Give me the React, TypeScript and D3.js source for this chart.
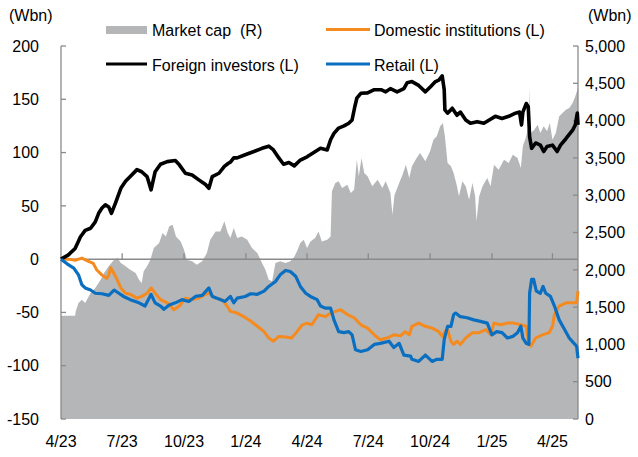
import React from 'react';
import * as d3 from 'd3';

// values (Wbn)
const marketCap: [string, number][] = [
  ['2023-04-01', 1385], ['2023-04-22', 1385], ['2023-04-23', 1443], ['2023-04-27', 1555], ['2023-05-02', 1600],
  ['2023-05-07', 1555], ['2023-05-15', 1689], ['2023-05-22', 1756], ['2023-05-30', 1868], ['2023-06-04', 1957],
  ['2023-06-11', 2046], ['2023-06-19', 2136], ['2023-06-24', 2158], ['2023-06-29', 2091], ['2023-07-06', 2046],
  ['2023-07-13', 2002], ['2023-07-21', 1957], ['2023-07-26', 1868], ['2023-07-30', 1823], ['2023-08-02', 1979],
  ['2023-08-07', 2046], ['2023-08-12', 2136], ['2023-08-17', 2292], ['2023-08-25', 2359], ['2023-08-30', 2493],
  ['2023-09-04', 2448], ['2023-09-09', 2583], ['2023-09-14', 2605], ['2023-09-19', 2448], ['2023-09-26', 2381],
  ['2023-10-01', 2270], ['2023-10-05', 2136], ['2023-10-13', 2113], ['2023-10-20', 2069], ['2023-10-28', 2113],
  ['2023-11-04', 2225], ['2023-11-09', 2404], ['2023-11-17', 2515], ['2023-11-24', 2515], ['2023-11-30', 2650],
  ['2023-12-05', 2493], ['2023-12-09', 2426], ['2023-12-14', 2560], ['2023-12-19', 2426], ['2023-12-26', 2448],
  ['2024-01-03', 2404], ['2024-01-10', 2292], ['2024-01-18', 2225], ['2024-01-25', 2091], ['2024-01-30', 2002],
  ['2024-02-04', 1868], ['2024-02-09', 1845], ['2024-02-14', 2091], ['2024-02-21', 2113], ['2024-02-29', 2091],
  ['2024-03-07', 2113], ['2024-03-12', 2158], ['2024-03-17', 2247], ['2024-03-22', 2359], ['2024-03-27', 2404],
  ['2024-04-01', 2292], ['2024-04-06', 2381], ['2024-04-13', 2426], ['2024-04-18', 2515], ['2024-04-23', 2381],
  ['2024-05-01', 2404], ['2024-05-06', 2448], ['2024-05-08', 3052], ['2024-05-13', 3163], ['2024-05-18', 3186],
  ['2024-05-23', 3096], ['2024-05-31', 3141], ['2024-06-05', 3029], ['2024-06-10', 3074], ['2024-06-14', 3476],
  ['2024-06-17', 3253], ['2024-06-21', 3498], ['2024-06-25', 3297], ['2024-06-30', 3253], ['2024-07-07', 3119],
  ['2024-07-15', 3208], ['2024-07-22', 3096], ['2024-07-27', 3186], ['2024-08-03', 3029], ['2024-08-06', 2739],
  ['2024-08-09', 3000], ['2024-08-16', 3163], ['2024-08-21', 3275], ['2024-08-26', 3409], ['2024-08-31', 3230],
  ['2024-09-04', 3387], ['2024-09-11', 3498], ['2024-09-16', 3565], ['2024-09-24', 3454], ['2024-10-01', 3588],
  ['2024-10-06', 3744], ['2024-10-11', 3789], ['2024-10-16', 3923], ['2024-10-20', 3967], ['2024-10-23', 3789],
  ['2024-10-27', 3431], ['2024-11-01', 3387], ['2024-11-05', 3297], ['2024-11-10', 3119], ['2024-11-13', 2985],
  ['2024-11-18', 3186], ['2024-11-23', 3119], ['2024-11-28', 2940], ['2024-12-03', 3163], ['2024-12-07', 2985],
  ['2024-12-09', 2650], ['2024-12-13', 2985], ['2024-12-18', 3119], ['2024-12-25', 3230], ['2024-12-30', 3119],
  ['2025-01-04', 3409], ['2025-01-11', 3342], ['2025-01-19', 3476], ['2025-01-26', 3431], ['2025-02-01', 3543],
  ['2025-02-08', 3498], ['2025-02-13', 3364], ['2025-02-16', 3655], ['2025-02-21', 3789], ['2025-02-25', 3967],
  ['2025-02-26', 4450], ['2025-02-27', 3950], ['2025-02-28', 3833], ['2025-03-05', 3878], ['2025-03-10', 3945],
  ['2025-03-14', 3833], ['2025-03-19', 3923], ['2025-03-24', 3856], ['2025-03-28', 3967], ['2025-04-01', 3744],
  ['2025-04-06', 3833], ['2025-04-11', 4057], ['2025-04-16', 4102], ['2025-04-21', 4146], ['2025-04-26', 4169],
  ['2025-05-01', 4236], ['2025-05-05', 4325], ['2025-05-09', 4437],
];

const domestic: [string, number][] = [
  ['2023-04-01', 0], ['2023-04-12', 0], ['2023-04-22', -1], ['2023-05-02', 1], ['2023-05-12', -2],
  ['2023-05-19', -4], ['2023-05-24', -10], ['2023-06-01', -15], ['2023-06-08', -18], ['2023-06-11', -15],
  ['2023-06-14', -8], ['2023-06-21', -16], ['2023-06-29', -27], ['2023-07-06', -32], ['2023-07-13', -33],
  ['2023-07-23', -36.6], ['2023-07-30', -35], ['2023-08-07', -32], ['2023-08-13', -27], ['2023-08-19', -32],
  ['2023-08-27', -38], ['2023-09-06', -41], ['2023-09-16', -47.5], ['2023-09-24', -44], ['2023-10-03', -36.6],
  ['2023-10-13', -38], ['2023-10-23', -36.6], ['2023-11-02', -33], ['2023-11-07', -32], ['2023-11-17', -36.6],
  ['2023-11-27', -38], ['2023-12-04', -44], ['2023-12-09', -49], ['2023-12-19', -50.6], ['2023-12-29', -54],
  ['2024-01-08', -58], ['2024-01-18', -63], ['2024-01-28', -68], ['2024-02-04', -74], ['2024-02-11', -77],
  ['2024-02-19', -72.5], ['2024-02-29', -73], ['2024-03-09', -74], ['2024-03-17', -68], ['2024-03-25', -61.6],
  ['2024-04-01', -60], ['2024-04-08', -61.6], ['2024-04-18', -52], ['2024-04-28', -54], ['2024-05-06', -50.6],
  ['2024-05-13', -49], ['2024-05-21', -47.5], ['2024-05-31', -52], ['2024-06-10', -55], ['2024-06-20', -61.6],
  ['2024-06-30', -64.7], ['2024-07-10', -71], ['2024-07-19', -75.6], ['2024-07-29', -74], ['2024-08-08', -71],
  ['2024-08-18', -72], ['2024-08-25', -68], ['2024-08-31', -71], ['2024-09-04', -63], ['2024-09-14', -60],
  ['2024-09-24', -63], ['2024-10-04', -64.7], ['2024-10-14', -68], ['2024-10-19', -72.5], ['2024-10-23', -68],
  ['2024-10-27', -66], ['2024-11-01', -77], ['2024-11-05', -80], ['2024-11-10', -77], ['2024-11-15', -80],
  ['2024-11-23', -74], ['2024-12-03', -69], ['2024-12-13', -69], ['2024-12-23', -66], ['2024-12-30', -71],
  ['2025-01-04', -60], ['2025-01-14', -61.6], ['2025-01-24', -60], ['2025-02-03', -60], ['2025-02-13', -61.6],
  ['2025-02-21', -63], ['2025-02-25', -80], ['2025-02-28', -81.6], ['2025-03-07', -74], ['2025-03-17', -71],
  ['2025-03-27', -69], ['2025-04-01', -63], ['2025-04-04', -52], ['2025-04-11', -44], ['2025-04-21', -41],
  ['2025-05-01', -41], ['2025-05-07', -41], ['2025-05-09', -30],
];

const foreign: [string, number][] = [
  ['2023-04-01', 0], ['2023-04-12', 4], ['2023-04-22', 10], ['2023-04-30', 21], ['2023-05-07', 27],
  ['2023-05-15', 29], ['2023-05-22', 35], ['2023-05-27', 43], ['2023-06-01', 48], ['2023-06-06', 51],
  ['2023-06-11', 49], ['2023-06-15', 43], ['2023-06-21', 52.5], ['2023-06-29', 66.5], ['2023-07-06', 73],
  ['2023-07-13', 77.5], ['2023-07-23', 84], ['2023-07-30', 82], ['2023-08-07', 77.5], ['2023-08-13', 65],
  ['2023-08-19', 82], ['2023-08-27', 89], ['2023-09-06', 91.5], ['2023-09-18', 92.5], ['2023-09-24', 88.5],
  ['2023-10-03', 80.6], ['2023-10-13', 79], ['2023-10-23', 74.4], ['2023-11-02', 70], ['2023-11-07', 66.5],
  ['2023-11-12', 77.5], ['2023-11-22', 80.6], ['2023-11-30', 87], ['2023-12-06', 90], ['2023-12-09', 91],
  ['2023-12-14', 95], ['2023-12-19', 95], ['2023-12-31', 98], ['2024-01-13', 101], ['2024-01-25', 104],
  ['2024-02-04', 106], ['2024-02-11', 102.5], ['2024-02-19', 95], ['2024-02-26', 89], ['2024-03-05', 90.6],
  ['2024-03-13', 87.5], ['2024-03-22', 93], ['2024-04-01', 96], ['2024-04-11', 100], ['2024-04-21', 104],
  ['2024-05-01', 102.5], ['2024-05-06', 112], ['2024-05-11', 118], ['2024-05-18', 123], ['2024-05-26', 125],
  ['2024-06-02', 127.5], ['2024-06-07', 130.6], ['2024-06-11', 143], ['2024-06-14', 151], ['2024-06-20', 155.6],
  ['2024-06-30', 156], ['2024-07-10', 159], ['2024-07-20', 159], ['2024-07-27', 157], ['2024-08-03', 160],
  ['2024-08-13', 157], ['2024-08-23', 160], ['2024-08-28', 165.6], ['2024-09-04', 166.6], ['2024-09-14', 163],
  ['2024-09-24', 157], ['2024-10-02', 162], ['2024-10-09', 166.6], ['2024-10-14', 168], ['2024-10-19', 172],
  ['2024-10-22', 159], ['2024-10-23', 140], ['2024-10-27', 137], ['2024-11-03', 141.6], ['2024-11-10', 135],
  ['2024-11-15', 138], ['2024-11-23', 130.6], ['2024-11-30', 127.5], ['2024-12-10', 129], ['2024-12-20', 127.5],
  ['2024-12-28', 130.6], ['2025-01-06', 134], ['2025-01-16', 132], ['2025-01-26', 134], ['2025-02-05', 137],
  ['2025-02-11', 138], ['2025-02-14', 126], ['2025-02-16', 138], ['2025-02-21', 146], ['2025-02-24', 143],
  ['2025-02-26', 115], ['2025-03-01', 104], ['2025-03-07', 109], ['2025-03-14', 107], ['2025-03-19', 101],
  ['2025-03-24', 105.6], ['2025-04-01', 107], ['2025-04-08', 101], ['2025-04-13', 107], ['2025-04-21', 113],
  ['2025-05-01', 121], ['2025-05-05', 126], ['2025-05-08', 137], ['2025-05-09', 126],
];

const retail: [string, number][] = [
  ['2023-04-01', 0], ['2023-04-10', -4.4], ['2023-04-20', -8.4], ['2023-04-27', -14.7], ['2023-05-02', -24],
  ['2023-05-07', -27], ['2023-05-15', -29], ['2023-05-22', -32], ['2023-06-01', -32.5], ['2023-06-11', -34],
  ['2023-06-19', -29], ['2023-06-26', -32], ['2023-07-03', -35], ['2023-07-13', -38], ['2023-07-26', -41],
  ['2023-08-04', -44], ['2023-08-13', -33], ['2023-08-19', -41], ['2023-08-27', -44], ['2023-09-01', -47],
  ['2023-09-09', -43], ['2023-09-18', -41], ['2023-09-28', -38], ['2023-10-08', -39.7], ['2023-10-18', -35],
  ['2023-10-28', -34], ['2023-11-07', -27], ['2023-11-12', -35], ['2023-11-22', -37.5], ['2023-12-01', -39.7],
  ['2023-12-09', -35], ['2023-12-14', -41], ['2023-12-19', -36.6], ['2023-12-31', -35], ['2024-01-08', -32.5],
  ['2024-01-18', -33], ['2024-01-28', -30], ['2024-02-04', -25.6], ['2024-02-14', -21], ['2024-02-21', -14.7],
  ['2024-02-29', -10.6], ['2024-03-07', -11.6], ['2024-03-15', -16], ['2024-03-22', -25.6], ['2024-03-30', -32],
  ['2024-04-06', -35], ['2024-04-16', -38], ['2024-04-21', -44], ['2024-04-28', -46], ['2024-05-06', -46],
  ['2024-05-11', -57], ['2024-05-18', -68], ['2024-05-26', -69], ['2024-06-02', -68], ['2024-06-07', -71],
  ['2024-06-12', -85], ['2024-06-20', -86.6], ['2024-06-30', -85], ['2024-07-10', -80], ['2024-07-19', -79],
  ['2024-08-01', -77], ['2024-08-08', -83], ['2024-08-16', -79], ['2024-08-23', -90], ['2024-09-02', -91],
  ['2024-09-04', -94], ['2024-09-14', -96], ['2024-09-24', -90], ['2024-10-04', -96], ['2024-10-11', -94],
  ['2024-10-19', -94], ['2024-10-22', -75.6], ['2024-10-27', -63], ['2024-11-01', -63], ['2024-11-05', -52],
  ['2024-11-08', -50.6], ['2024-11-15', -54], ['2024-11-25', -55], ['2024-12-05', -57], ['2024-12-15', -58.4],
  ['2024-12-25', -60], ['2025-01-01', -71], ['2025-01-08', -68], ['2025-01-16', -69], ['2025-01-24', -74],
  ['2025-02-01', -72.5], ['2025-02-08', -69], ['2025-02-13', -63], ['2025-02-16', -74], ['2025-02-21', -79],
  ['2025-02-25', -80], ['2025-02-26', -32], ['2025-03-01', -19], ['2025-03-04', -19], ['2025-03-08', -30],
  ['2025-03-14', -32], ['2025-03-18', -25.6], ['2025-03-22', -32], ['2025-03-29', -35], ['2025-04-04', -44],
  ['2025-04-11', -57], ['2025-04-19', -66], ['2025-04-26', -74], ['2025-05-03', -79], ['2025-05-07', -82],
  ['2025-05-09', -93],
];

const xTickDates = ['2023-04-01', '2023-07-01', '2023-10-01', '2024-01-01', '2024-04-01', '2024-07-01', '2024-10-01', '2025-01-01', '2025-04-01'];
const xTickLabels = ['4/23', '7/23', '10/23', '1/24', '4/24', '7/24', '10/24', '1/25', '4/25'];
const leftTicks = [-150, -100, -50, 0, 50, 100, 150, 200];
const rightTicks = [0, 500, 1000, 1500, 2000, 2500, 3000, 3500, 4000, 4500, 5000];

const parse = d3.timeParse('%Y-%m-%d');
const W = 638, H = 457;
const left = 61, right = 578, top = 46, bottom = 419;
const font = '"Liberation Sans", Arial, sans-serif';
const axisColor = '#8a8a8a';

export default function App() {
  const x = d3.scaleTime().domain([parse('2023-04-01')!, parse('2025-05-09')!]).range([left, right]);
  const yL = d3.scaleLinear().domain([-150, 200]).range([bottom, top]);
  const yR = d3.scaleLinear().domain([0, 5000]).range([bottom, top]);

  const area = d3.area<[string, number]>()
    .x(d => x(parse(d[0])!))
    .y0(yR(0))
    .y1(d => yR(d[1]));
  const line = d3.line<[string, number]>()
    .x(d => x(parse(d[0])!))
    .y(d => yL(d[1]));

  const fmt = d3.format(',');

  return (
    <svg width={W} height={H} style={{ position: 'absolute', left: 0, top: 0 }} fontFamily={font} fontSize={16}>
      <rect width={W} height={H} fill="#fff" />
      <path d={area(marketCap)!} fill="#b5b6b8" />

      {/* zero line / x axis */}
      <line x1={left} x2={right} y1={yL(0)} y2={yL(0)} stroke={axisColor} strokeWidth={1.5} />
      {xTickDates.map((d, i) => (
        <g key={d}>
          {i > 0 && <line x1={x(parse(d)!)} x2={x(parse(d)!)} y1={yL(0)} y2={yL(0) - 6} stroke={axisColor} strokeWidth={1.3} />}
          <text x={x(parse(d)!)} y={447} textAnchor="middle">{xTickLabels[i]}</text>
        </g>
      ))}

      {/* left axis */}
      <line x1={left} x2={left} y1={top} y2={bottom} stroke={axisColor} strokeWidth={1.3} />
      {leftTicks.map(t => (
        <g key={t}>
          <line x1={left} x2={left + 5} y1={yL(t)} y2={yL(t)} stroke={axisColor} strokeWidth={1.3} />
          <text x={39} y={yL(t)} dy="0.36em" textAnchor="end">{t}</text>
        </g>
      ))}
      <text x={9} y={21}>(Wbn)</text>

      {/* right axis */}
      <line x1={right} x2={right} y1={top} y2={bottom} stroke={axisColor} strokeWidth={1.3} />
      {rightTicks.map(t => (
        <g key={t}>
          <line x1={right} x2={right - 5} y1={yR(t)} y2={yR(t)} stroke={axisColor} strokeWidth={1.3} />
          <text x={585} y={yR(t)} dy="0.36em">{fmt(t)}</text>
        </g>
      ))}
      <text x={588} y={21}>(Wbn)</text>

      {/* series */}
      <path d={line(domestic)!} fill="none" stroke="#f58a1f" strokeWidth={3} strokeLinejoin="round" />
      <path d={line(foreign)!} fill="none" stroke="#000" strokeWidth={3.6} strokeLinejoin="round" />
      <path d={line(retail)!} fill="none" stroke="#0b6fc1" strokeWidth={3.2} strokeLinejoin="round" />

      {/* legend */}
      <rect x={106} y={26} width={41} height={8} fill="#b5b6b8" />
      <text x={152} y={36} style={{ whiteSpace: 'pre' }}>Market cap  (R)</text>
      <line x1={326} x2={370} y1={29.5} y2={29.5} stroke="#f58a1f" strokeWidth={3} />
      <text x={374} y={36}>Domestic institutions (L)</text>
      <line x1={106} x2={147} y1={64} y2={64} stroke="#000" strokeWidth={3.2} />
      <text x={152} y={71}>Foreign investors (L)</text>
      <line x1={326} x2={370} y1={64} y2={64} stroke="#0b6fc1" strokeWidth={3} />
      <text x={374} y={71}>Retail (L)</text>
    </svg>
  );
}
